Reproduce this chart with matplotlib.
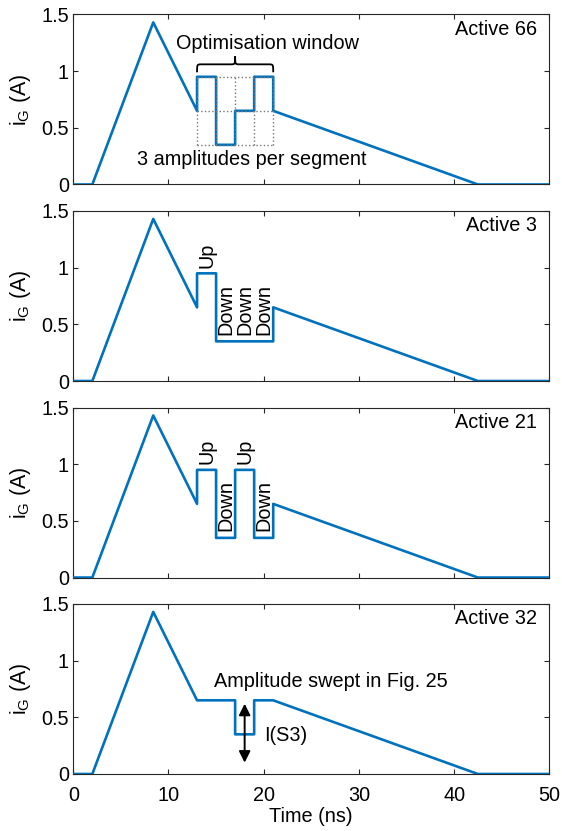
import matplotlib
matplotlib.use("Agg")
import matplotlib.pyplot as plt
from matplotlib.path import Path
from matplotlib.patches import PathPatch
import numpy as np

plt.rcParams['font.family'] = ['Liberation Sans', 'DejaVu Sans']
plt.rcParams['font.size'] = 14.3

# waveform data (ns, A)
t_head = [0, 2, 8.4, 13]
i_head = [0, 0, 1.43, 0.65]
seg_edges = [13, 15, 17, 19, 21]
t_tail = [21, 42.5, 50]
i_tail = [0.65, 0, 0]
panel_names = ['Active 66', 'Active 3', 'Active 21', 'Active 32']
seg_levels = [
    [0.95, 0.35, 0.65, 0.95],
    [0.95, 0.35, 0.35, 0.35],
    [0.95, 0.35, 0.95, 0.35],
    [0.65, 0.65, 0.35, 0.65],
]
grid_levels = [0.35, 0.65, 0.95]
up_down = [
    None,
    ['Up', 'Down', 'Down', 'Down'],
    ['Up', 'Down', 'Up', 'Down'],
    None,
]
xticks = [0, 10, 20, 30, 40, 50]
yticks = [0, 0.5, 1, 1.5]
ytick_labels = ['0', '0.5', '1', '1.5']

blue = '#0072BD'
axc = '#262626'

def waveform(levels):
    t = list(t_head)
    i = list(i_head)
    for k, L in enumerate(levels):
        t += [seg_edges[k], seg_edges[k + 1]]
        i += [L, L]
    t += t_tail
    i += i_tail
    return np.array(t), np.array(i)

def brace(ax, x0, x1, yb, h):
    xm = 0.5 * (x0 + x1)
    ym = yb + 0.5 * h
    yt = yb + h
    r = 0.5
    verts = [(x0, yb), (x0, ym), (x0, ym), (x0 + r, ym),
             (xm - r, ym), (xm, ym), (xm, ym), (xm, yt),
             (xm, ym), (xm, ym), (xm + r, ym),
             (x1 - r, ym), (x1, ym), (x1, ym), (x1, yb)]
    codes = [Path.MOVETO, Path.CURVE4, Path.CURVE4, Path.CURVE4,
             Path.LINETO, Path.CURVE4, Path.CURVE4, Path.CURVE4,
             Path.CURVE4, Path.CURVE4, Path.CURVE4,
             Path.LINETO, Path.CURVE4, Path.CURVE4, Path.CURVE4]
    ax.add_patch(PathPatch(Path(verts, codes), fc='none', ec='k', lw=1.3))

fig = plt.figure(figsize=(5.62, 8.31), dpi=100)
bottoms = [0.778, 0.5415, 0.305, 0.0686]
axes = []
for p in range(4):
    ax = fig.add_axes([0.1304, bottoms[p], 0.847, 0.2046])
    axes.append(ax)
    t, i = waveform(seg_levels[p])
    ax.plot(t, i, color=blue, lw=1.9, zorder=3)
    ax.set_xlim(0, 50)
    ax.set_ylim(0, 1.5)
    ax.set_xticks(xticks)
    ax.set_yticks(yticks)
    ax.set_yticklabels(ytick_labels)
    ax.tick_params(direction='in', length=3.5, top=True, right=True,
                   colors=axc, labelcolor='k')
    ax.tick_params(axis='y', pad=3)
    ax.tick_params(axis='x', pad=9)
    for s in ax.spines.values():
        s.set_color(axc)
        s.set_linewidth(0.8)
    if p < 3:
        ax.set_xticklabels([])
    ax.set_ylabel(r'$\mathregular{i_G}$ (A)', fontsize=15.5, labelpad=6)
    ax.text(48.7, 1.37, panel_names[p], ha='right', va='center')
    if up_down[p] is not None:
        for k, lab in enumerate(up_down[p]):
            xc = 0.5 * (seg_edges[k] + seg_edges[k + 1])
            yb = seg_levels[p][k] + (0.05 if lab == 'Up' else 0.06)
            ax.text(xc, yb, lab, rotation=90, ha='center', va='bottom')

# panel 1 annotations
ax = axes[0]
for x in seg_edges:
    ax.plot([x, x], [grid_levels[0], grid_levels[-1]], color='#777777', ls=':', lw=1.0, zorder=4)
for y in grid_levels:
    ax.plot([seg_edges[0], seg_edges[-1]], [y, y], color='#777777', ls=':', lw=1.0, zorder=4)
brace(ax, seg_edges[0], seg_edges[-1], 0.99, 0.14)
ax.text(20.4, 1.24, 'Optimisation window', ha='center', va='center')
ax.text(18.7, 0.22, '3 amplitudes per segment', ha='center', va='center')

# panel 4 annotations
ax = axes[3]
ax.annotate('', xy=(18, 0.1), xytext=(18, 0.62),
            arrowprops=dict(arrowstyle='<|-|>', color='k', lw=1.4, mutation_scale=17,
                            shrinkA=0, shrinkB=0))
ax.text(20, 0.34, 'I(S3)', ha='left', va='center')
ax.text(14.8, 0.82, 'Amplitude swept in Fig. 25', ha='left', va='center')
ax.set_xlabel('Time (ns)', labelpad=1)

fig.savefig('out.png', dpi=100)
